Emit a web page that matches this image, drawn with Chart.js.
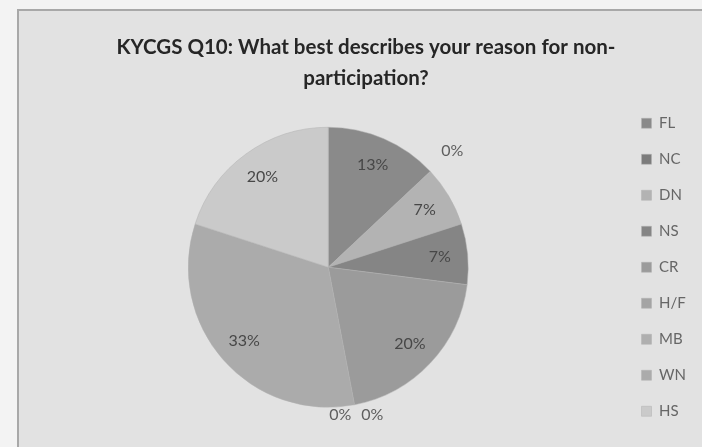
<!DOCTYPE html>
<html>
<head>
<meta charset="utf-8">
<script src="https://cdn.jsdelivr.net/npm/chart.js@4"></script>
<style>
  body { margin: 0; background: #f3f3f3; overflow: hidden; }
  #frame {
    position: absolute; left: 17px; top: 9px; width: 685px; height: 438px;
    border-top: 2px solid #a8a8a8; border-left: 2px solid #a8a8a8;
    background: #e2e2e2;
  }
  canvas { display: block; }
</style>
</head>
<body>
<div id="frame"><canvas id="pieChart" width="685" height="438"></canvas></div>
<script>
// survey answers (15 respondents)
const categories = ["FL", "NC", "DN", "NS", "CR", "H/F", "MB", "WN", "HS"];
const percentages = [13, 0, 7, 7, 20, 0, 0, 33, 20];
const sliceColors = ["#8a8a8a", "#7c7c7c", "#b3b3b3", "#858585", "#9b9b9b",
                     "#a4a4a4", "#afafaf", "#ababab", "#cacaca"];
const titleLines = ["KYCGS Q10: What best describes your reason for non-", "participation?"];

// percent labels, Excel style: inside for real slices, outside for 0%
const pctLabels = {
    id: "pctLabels",
    afterDatasetsDraw(chart) {
        const ctx = chart.ctx;
        const arcs = chart.getDatasetMeta(0).data;
        ctx.save();
        ctx.font = "16px Lato";
        ctx.textAlign = "center";
        ctx.textBaseline = "middle";
        let lastZeroAngle = null, zeroCount = 0;
        arcs.forEach((arc, i) => {
            const p = arc.getProps(["x", "y", "startAngle", "endAngle", "outerRadius"], true);
            const mid = (p.startAngle + p.endAngle) / 2;
            let r = p.outerRadius * 0.8;
            let dx = 0;
            ctx.fillStyle = "#474747";
            if (percentages[i] === 0) {
                ctx.fillStyle = "#5e5e5e";
                r = p.outerRadius + 10;
                // zero slices sitting on the same edge get pushed apart
                if (lastZeroAngle !== null && Math.abs(lastZeroAngle - mid) < 0.01) {
                    zeroCount++;
                } else {
                    zeroCount = 0;
                }
                lastZeroAngle = mid;
                const next = percentages[i + 1] === 0 && i + 1 < arcs.length;
                if (zeroCount === 0 && next) dx = 16;
                if (zeroCount === 1) dx = -16;
                if (!next && zeroCount === 0) r = p.outerRadius + 30;
            }
            const x = p.x + Math.cos(mid) * r + dx;
            const y = p.y + Math.sin(mid) * r;
            ctx.fillText(percentages[i] + "%", x, y);
        });
        ctx.restore();
    }
};

new Chart(document.getElementById("pieChart"), {
    type: "pie",
    data: {
        labels: categories,
        datasets: [{
            data: percentages,
            backgroundColor: sliceColors,
            borderColor: "#b0b0b0",
            borderWidth: 0.5,
            radius: 140
        }]
    },
    options: {
        responsive: false,
        animation: false,
        layout: { padding: { left: 17, right: 8, top: 0, bottom: 8 } },
        plugins: {
            title: {
                display: true,
                text: titleLines,
                color: "#262626",
                font: { family: "Lato", size: 20.5, weight: "bold", lineHeight: 1.5 },
                padding: { top: 21, bottom: 0 }
            },
            legend: {
                position: "right",
                fullSize: false,
                labels: {
                    boxWidth: 10,
                    boxHeight: 10,
                    padding: 21,
                    color: "#666",
                    font: { family: "Lato", size: 15 }
                }
            },
            tooltip: { enabled: false }
        }
    },
    plugins: [pctLabels]
});
</script>
</body>
</html>
